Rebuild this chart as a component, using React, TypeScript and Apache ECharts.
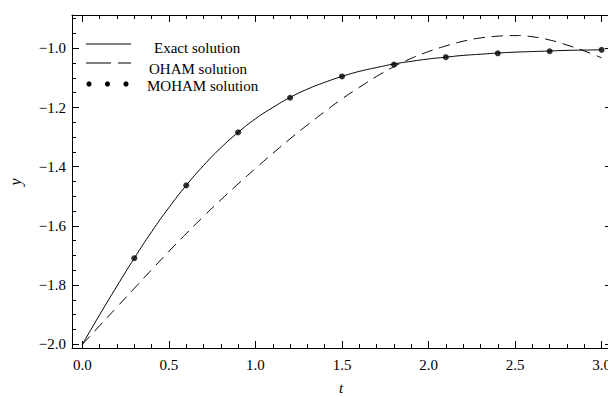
import React, { useEffect, useRef } from "react";
import * as echarts from "echarts";

const tGrid = [0, 0.1, 0.2, 0.3, 0.4, 0.5, 0.6, 0.7, 0.8, 0.9, 1.0, 1.1, 1.2, 1.3, 1.4, 1.5, 1.6, 1.7, 1.8, 1.9, 2.0, 2.1, 2.2, 2.3, 2.4, 2.5, 2.6, 2.7, 2.8, 2.9, 3.0];
const exactY = [-2.0, -1.9, -1.803, -1.709, -1.62, -1.538, -1.463, -1.396, -1.336, -1.284, -1.238, -1.2, -1.166, -1.138, -1.115, -1.095, -1.078, -1.065, -1.053, -1.044, -1.036, -1.03, -1.024, -1.02, -1.016, -1.013, -1.011, -1.009, -1.007, -1.006, -1.005];
const ohamY = [-2.0, -1.937, -1.874, -1.811, -1.748, -1.686, -1.626, -1.568, -1.512, -1.458, -1.406, -1.355, -1.306, -1.259, -1.214, -1.171, -1.132, -1.095, -1.062, -1.034, -1.011, -0.992, -0.976, -0.965, -0.959, -0.957, -0.961, -0.972, -0.989, -1.009, -1.032];
const mohamT = [0.3, 0.6, 0.9, 1.2, 1.5, 1.8, 2.1, 2.4, 2.7, 3.0];
const mohamY = [-1.709, -1.463, -1.284, -1.167, -1.095, -1.055, -1.03, -1.017, -1.01, -1.005];

const xMajorTicks = [0, 0.5, 1.0, 1.5, 2.0, 2.5, 3.0];
const xMinorTicks = [0.1, 0.2, 0.3, 0.4, 0.6, 0.7, 0.8, 0.9, 1.1, 1.2, 1.3, 1.4, 1.6, 1.7, 1.8, 1.9, 2.1, 2.2, 2.3, 2.4, 2.6, 2.7, 2.8, 2.9];
const yMajorTicks = [-2.0, -1.8, -1.6, -1.4, -1.2, -1.0];
const yMinorTicks = [-1.95, -1.9, -1.85, -1.75, -1.7, -1.65, -1.55, -1.5, -1.45, -1.35, -1.3, -1.25, -1.15, -1.1, -1.05, -0.95, -0.9];

const legendNames = ["Exact solution", "OHAM solution", "MOHAM solution"];

const X_MIN = -0.06;
const X_MAX = 3.06;
const Y_MIN = -2.0125;
const Y_MAX = -0.8875;

const FONT = "'Liberation Serif', 'Times New Roman', serif";

export default function App() {
  const ref = useRef<HTMLDivElement>(null);
  useEffect(() => {
    if (!ref.current) return;
    const chart = echarts.init(ref.current, undefined, { renderer: "svg" });
    const gridRect = { left: 72, top: 15, width: 540, bottom: 49 };
    const lineBlack = { color: "#000", width: 1 };

    const mkX = (gridIndex: number, position: string, ticks: number[], len: number, labels: boolean, showLine: boolean) => ({
      type: "value",
      gridIndex,
      position,
      min: X_MIN,
      max: X_MAX,
      axisLine: { show: showLine, onZero: false, lineStyle: lineBlack },
      axisTick: { show: true, inside: true, length: len, customValues: ticks, lineStyle: lineBlack },
      axisLabel: labels
        ? {
            show: true,
            customValues: ticks,
            formatter: (v: number) => v.toFixed(1),
            fontFamily: FONT,
            fontSize: 15,
            color: "#000",
            margin: 9,
          }
        : { show: false },
      splitLine: { show: false },
    });
    const mkY = (gridIndex: number, position: string, ticks: number[], len: number, labels: boolean, showLine: boolean) => ({
      type: "value",
      gridIndex,
      position,
      min: Y_MIN,
      max: Y_MAX,
      axisLine: { show: showLine, onZero: false, lineStyle: lineBlack },
      axisTick: { show: true, inside: true, length: len, customValues: ticks, lineStyle: lineBlack },
      axisLabel: labels
        ? {
            show: true,
            customValues: ticks,
            formatter: (v: number) => v.toFixed(1).replace("-", "\u2212"),
            fontFamily: FONT,
            fontSize: 15,
            color: "#000",
            margin: 6,
          }
        : { show: false },
      splitLine: { show: false },
    });

    const legendX0 = 86;
    const legendX1 = 131;
    const option: any = {
      animation: false,
      backgroundColor: "#fff",
      grid: [
        { ...gridRect, containLabel: false, outerBoundsMode: "none" },
        { ...gridRect, containLabel: false, outerBoundsMode: "none" },
      ],
      xAxis: [
        mkX(0, "bottom", xMajorTicks, 7, true, true),
        mkX(0, "top", xMajorTicks, 7, false, true),
        mkX(1, "bottom", xMinorTicks, 4, false, false),
        mkX(1, "top", xMinorTicks, 4, false, false),
      ],
      yAxis: [
        mkY(0, "left", yMajorTicks, 7, true, true),
        mkY(0, "right", yMajorTicks, 7, false, true),
        mkY(1, "left", yMinorTicks, 4, false, false),
        mkY(1, "right", yMinorTicks, 4, false, false),
      ],
      series: [
        {
          name: legendNames[0],
          type: "line",
          xAxisIndex: 0,
          yAxisIndex: 0,
          data: tGrid.map((t, i) => [t, exactY[i]]),
          smooth: true,
          showSymbol: false,
          lineStyle: { color: "#000", width: 1 },
        },
        {
          name: legendNames[1],
          type: "line",
          xAxisIndex: 0,
          yAxisIndex: 0,
          data: tGrid.map((t, i) => [t, ohamY[i]]),
          smooth: true,
          showSymbol: false,
          lineStyle: { color: "#000", width: 1, type: [11, 7] },
        },
        {
          name: legendNames[2],
          type: "scatter",
          xAxisIndex: 0,
          yAxisIndex: 0,
          data: mohamT.map((t, i) => [t, mohamY[i]]),
          symbol: "circle",
          symbolSize: 6,
          itemStyle: { color: "#000" },
        },
      ],
      graphic: [
        { type: "line", shape: { x1: legendX0, y1: 44, x2: legendX1, y2: 44 }, style: { stroke: "#000", lineWidth: 1 } },
        { type: "line", shape: { x1: legendX0, y1: 63, x2: 111, y2: 63 }, style: { stroke: "#000", lineWidth: 1 } },
        { type: "line", shape: { x1: 118, y1: 63, x2: legendX1, y2: 63 }, style: { stroke: "#000", lineWidth: 1 } },
        { type: "circle", shape: { cx: 89, cy: 84, r: 2.6 }, style: { fill: "#000" } },
        { type: "circle", shape: { cx: 107.5, cy: 84, r: 2.6 }, style: { fill: "#000" } },
        { type: "circle", shape: { cx: 126, cy: 84, r: 2.6 }, style: { fill: "#000" } },
        { type: "text", x: 154, y: 48, style: { text: legendNames[0], font: `15px ${FONT}`, fill: "#000", verticalAlign: "middle" } },
        { type: "text", x: 149, y: 69, style: { text: legendNames[1], font: `15px ${FONT}`, fill: "#000", verticalAlign: "middle" } },
        { type: "text", x: 147, y: 86, style: { text: legendNames[2], font: `15px ${FONT}`, fill: "#000", verticalAlign: "middle" } },
        { type: "text", x: 15, y: 182, rotation: Math.PI / 2, style: { text: "y", font: `italic 16px ${FONT}`, fill: "#000", align: "center", verticalAlign: "middle" } },
        { type: "text", x: 341, y: 388, style: { text: "t", font: `italic 15px ${FONT}`, fill: "#000", align: "center", verticalAlign: "middle" } },
      ],
    };
    chart.setOption(option);
    return () => chart.dispose();
  }, []);
  return <div ref={ref} style={{ position: "absolute", left: 0, top: 0, width: 608, height: 397 }} />;
}
